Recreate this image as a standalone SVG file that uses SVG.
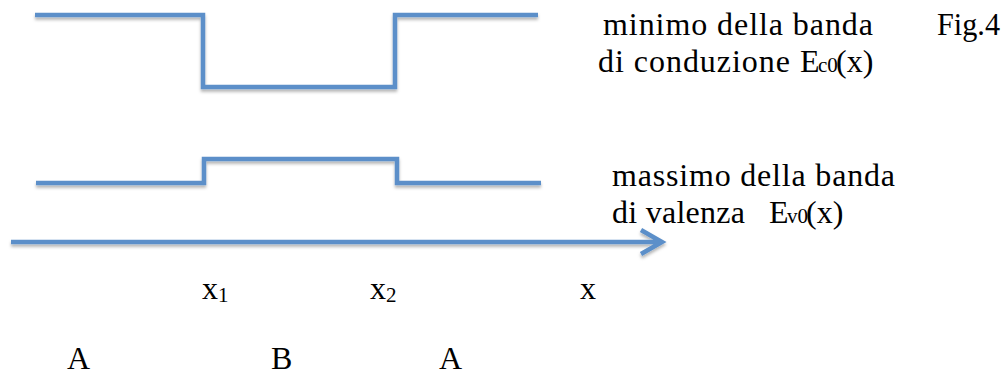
<svg xmlns="http://www.w3.org/2000/svg" width="1006" height="376" viewBox="0 0 1006 376">
<style>
.ln{fill:none;stroke:#5B8FC9;stroke-width:4.5;stroke-linejoin:miter;stroke-linecap:butt;filter:url(#sh)}
.t{font-family:"Liberation Serif","Times New Roman",serif;font-size:32px;fill:#000}
.s{font-size:21px}
</style>
<defs>
<filter id="sh" x="-5%" y="-20%" width="110%" height="160%">
<feDropShadow dx="0" dy="2.5" stdDeviation="1.5" flood-color="#000" flood-opacity="0.3"/>
</filter>
</defs>
<rect width="1006" height="376" fill="#fff"/>
<g id="connectors">
<path id="conduction" class="ln" d="M35,15 H203 V87 H395 V15 H538"/>
<path id="valence" class="ln" d="M36,183 H204 V159 H397 V183 H541"/>
<path id="axis" class="ln" d="M11,242 H661 M641,230 L662,242 L641,254"/>
</g>
<g id="label-conduction">
<text class="t" x="603" y="35" textLength="270" lengthAdjust="spacing">minimo della banda</text>
<text class="t" x="598" y="72"><tspan textLength="192" lengthAdjust="spacing">di conduzione</tspan><tspan x="800">E</tspan><tspan x="818" class="s">c0</tspan><tspan x="836">(x)</tspan></text>
</g>
<g id="label-fig">
<text class="t" x="937" y="35" textLength="63" lengthAdjust="spacingAndGlyphs">Fig.4</text>
</g>
<g id="label-valence">
<text class="t" x="612" y="186" textLength="283" lengthAdjust="spacing">massimo della banda</text>
<text class="t" x="612" y="223"><tspan textLength="133" lengthAdjust="spacing">di valenza</tspan><tspan x="769">E</tspan><tspan x="787" class="s">v0</tspan><tspan x="806">(x)</tspan></text>
</g>
<g id="label-x1"><text class="t" x="202" y="299">x<tspan class="s" dy="3">1</tspan></text></g>
<g id="label-x2"><text class="t" x="370" y="299">x<tspan class="s" dy="3">2</tspan></text></g>
<g id="label-x"><text class="t" x="580" y="299">x</text></g>
<g id="label-A1"><text class="t" x="67" y="369">A</text></g>
<g id="label-B"><text class="t" x="271" y="369">B</text></g>
<g id="label-A2"><text class="t" x="439" y="369">A</text></g>
</svg>
